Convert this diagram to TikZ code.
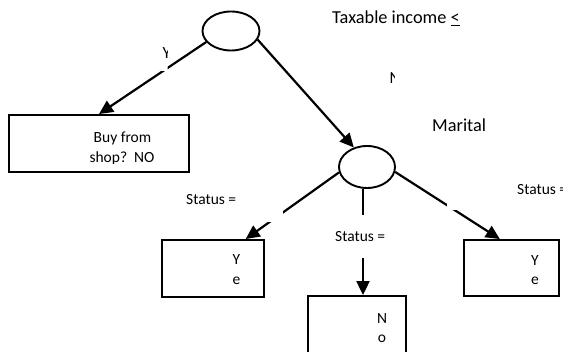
\documentclass[tikz,border=0pt]{standalone}
\usepackage{fontspec}
\setmainfont{Carlito}
\usetikzlibrary{arrows.meta,shapes.geometric,calc}
\begin{document}
\begin{tikzpicture}[x=1pt,y=-1pt,
  outl/.style={draw=black,line width=1.9pt,inner sep=0pt},
  oval/.style={outl,ellipse},
  boxn/.style={outl,rectangle},
  conn/.style={line width=2.2pt,-{Triangle[length=14pt,width=13pt]}},
  small/.style={font=\fontsize{15.5}{19}\selectfont,inner sep=0pt,anchor=base},
  lab/.style={font=\fontsize{15.5}{19}\selectfont,inner sep=0pt,anchor=base west},
  big/.style={font=\fontsize{18.3}{22}\selectfont,inner sep=0pt,anchor=base west}]
\useasboundingbox (0,0) rectangle (563,352);
% shapes
\node[oval,minimum width=57pt,minimum height=39pt] (top) at (231,31) {};
\node[oval,minimum width=56pt,minimum height=42pt] (mid) at (367,167) {};
\node[boxn,minimum width=180pt,minimum height=57pt] (lbox) at (99,143.5) {};
\node[boxn,minimum width=102pt,minimum height=57pt] (ybl) at (213,268.5) {};
\node[boxn,minimum width=98pt,minimum height=80pt] (nob) at (357,336) {};
\node[boxn,minimum width=95pt,minimum height=56pt] (ybr) at (511.5,268) {};
% connectors
\draw[conn] (top.204) -- (lbox.north);
\draw[conn] (top.342) -- (mid.124);
\draw[conn] (mid.191) -- (ybl.42);
\coordinate (tipM) at ($(nob.north)+(6,0)$);
\draw[conn] (mid.south -| tipM) -- (tipM);
\draw[conn] (mid.350) -- (ybr.112);
% labels with their (white) text frames
\begin{scope}
\clip (140,40) rectangle (167.5,71.5);
\fill[white] (140,40) rectangle (167.5,71.5);
\node[lab,font=\fontsize{17}{20}\selectfont] (ylab) at (162.5,59) {Y};
\end{scope}
\begin{scope}
\clip (380,60) rectangle (394.5,90);
\node[lab,font=\fontsize{17}{20}\selectfont] (nlab) at (389.5,84) {N};
\end{scope}
\begin{scope}
\clip (175,185) rectangle (283,222);
\fill[white] (175,185) rectangle (283,222);
\node[lab] (st1) at (186,205) {Status =};
\end{scope}
\begin{scope}
\clip (328,215) rectangle (398,258);
\fill[white] (328,215) rectangle (398,258);
\node[lab] (st2) at (335,242) {Status =};
\end{scope}
\begin{scope}
\clip (447,175) rectangle (580,210);
\fill[white] (447,175) rectangle (580,210);
\node[lab] (st3) at (517,195) {Status =};
\end{scope}
% plain texts
\node[big] (tax) at (332,24) {Taxable income \underline{<}};
\node[big] (mar) at (432,132) {Marital};
\begin{scope}
\clip (9,115) rectangle (189,163.3);
\node[small] (buy1) at (122.5,143) {Buy from};
\node[small] (buy2) at (122,162.5) {shop?\ \ NO};
\end{scope}
\node[small] (ylt1) at (236.5,265) {Y};
\node[small] (ylt2) at (236.5,285) {e};
\node[small] (nt1) at (382,324) {N};
\node[small] (nt2) at (382,343) {o};
\node[small] (yrt1) at (535,266) {Y};
\node[small] (yrt2) at (535,285) {e};
\end{tikzpicture}
\end{document}
